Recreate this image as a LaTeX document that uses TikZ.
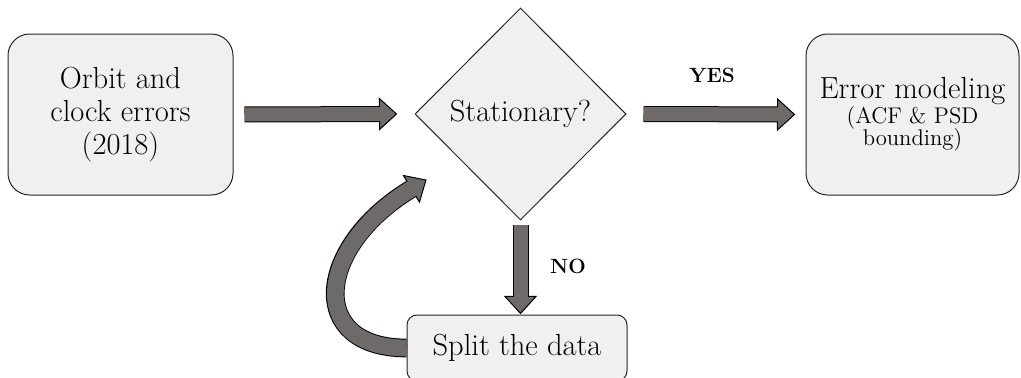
\documentclass[tikz,border=0pt]{standalone}
\usepackage{tikz}
\usetikzlibrary{positioning,calc,shapes.geometric,decorations.markings}
\definecolor{boxgray}{RGB}{240,240,240}
\definecolor{arrgray}{RGB}{110,106,106}
\newcommand{\bigsz}{\fontsize{18.3}{19.8}\selectfont}
\newcommand{\smallsz}{\fontsize{13.6}{14}\selectfont}

\begin{document}
\begin{tikzpicture}[x=0.6pt,y=0.6pt,
    block/.style={draw=black!85, line width=0.6pt, fill=boxgray, rounded corners=13pt,
      align=center, inner sep=0pt, font=\bigsz},
    decision/.style={draw=black!85, line width=0.6pt, fill=boxgray, diamond, aspect=1,
      inner sep=0pt, font=\bigsz},
    lbl/.style={font=\fontsize{12.4}{14}\selectfont\bfseries, inner sep=1pt},
    fatarrow/.style={
      preaction={draw=black, line width=#1+1.2pt, shorten >=10.2pt},
      postaction={decorate, decoration={markings, mark=at position 0.9999 with {
        \draw[fill=arrgray, line width=0.6pt, line join=miter] (0,0) -- (-10.2pt,9.3pt) -- (-10.2pt,-9.3pt) -- cycle;}}},
      postaction={draw=arrgray, line width=#1, shorten >=9.4pt}},
    fatarrow/.default=8.4pt]
  \path[use as bounding box, clip] (0,0) rectangle (1021,377);
  \node[block, minimum width=135pt, minimum height=96.6pt] (orbit) at (120.5,262.5) {Orbit and\\clock errors\\(2018)};
  \node[decision, minimum width=126.6pt, minimum height=127.2pt] (stat) at (520.5,263) {Stationary?};
  \node[block, minimum width=127.8pt, minimum height=96.6pt] (model) at (912.5,262.5) {Error modeling\\[-4.5pt]\smallsz (ACF \& PSD\\[-6.6pt]\smallsz bounding)};
  \node[block, rounded corners=6pt, minimum width=132pt, minimum height=39.6pt] (split) at (517,29) {Split the data};
  \coordinate (splittop) at (stat.south |- split.north);
  \coordinate (loopend) at (426,197);
  \path[fatarrow] ([xshift=6.6pt]orbit.east) -- ([xshift=-10.8pt]stat.west);
  \path[fatarrow] ([xshift=10.2pt]stat.east) -- ([xshift=-6.6pt]model.west);
  \path[fatarrow] ([yshift=-2.4pt]stat.south) -- ([yshift=0.6pt]splittop);
  \path[fatarrow=10pt] (split.west) .. controls +(-100,0) and +(-111,-67) .. (loopend);
  \node[lbl] (yes) at (712,302) {YES};
  \node[lbl] (no) at (568,111) {NO};
\end{tikzpicture}
\end{document}
